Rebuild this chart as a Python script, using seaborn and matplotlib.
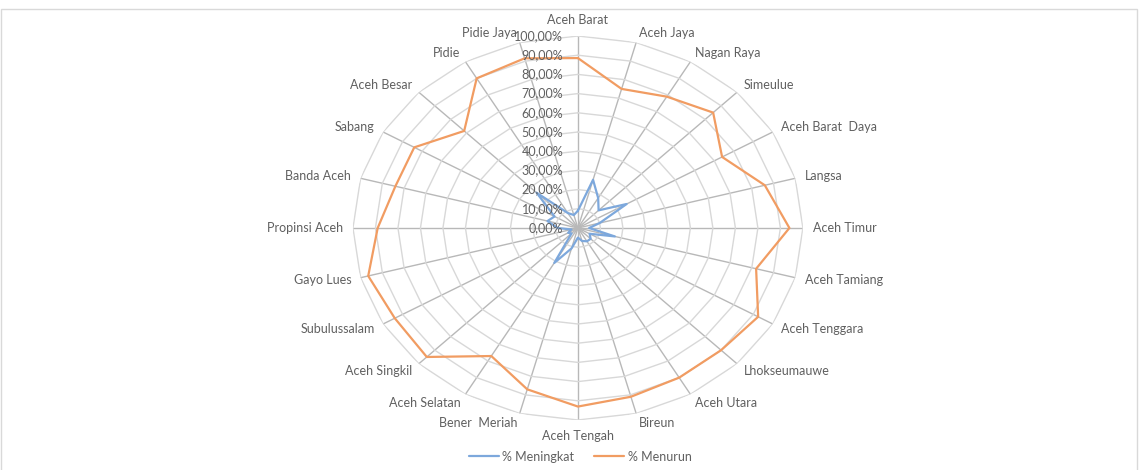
import numpy as np
import pandas as pd
import matplotlib
matplotlib.use('Agg')
import matplotlib.pyplot as plt
from matplotlib.lines import Line2D
from matplotlib.patches import Rectangle
import seaborn as sns

categories = [
    'Aceh Barat', 'Aceh Jaya', 'Nagan Raya', 'Simeulue', 'Aceh Barat  Daya',
    'Langsa', 'Aceh Timur', 'Aceh Tamiang', 'Aceh Tenggara', 'Lhokseumauwe',
    'Aceh Utara', 'Bireun', 'Aceh Tengah', 'Bener  Meriah', 'Aceh Selatan',
    'Aceh Singkil', 'Subulussalam', 'Gayo Lues', 'Propinsi Aceh', 'Banda Aceh',
    'Sabang', 'Aceh Besar', 'Pidie', 'Pidie Jaya',
]
meningkat = [9, 26, 18, 13, 25, 10, 5, 17, 6, 8, 8, 7,
             5, 11, 21, 4, 5, 3, 9, 14, 12, 26, 9, 7]
menurun = [88.5, 75, 79, 85, 74, 86, 94, 82, 92.5, 90, 90, 91,
           93, 87, 77, 95, 94, 96.5, 89, 84, 84, 71.5, 90, 91.5]
series_names = ['% Meningkat', '% Menurun']
r_ticks = [0, 10, 20, 30, 40, 50, 60, 70, 80, 90, 100]

BLUE = '#7DA8DC'
ORANGE = '#F19C62'
TEXT = '#606060'
RING = '#D8D8D8'
SPOKE = '#B8B8B8'

n = len(categories)
angles = np.linspace(0, 2 * np.pi, n, endpoint=False)
closed = np.append(angles, angles[0])

rows = []
for name, vals in zip(series_names, [meningkat, menurun]):
    for a, v in zip(closed, vals + vals[:1]):
        rows.append({'angle': a, 'value': v / 100, 'series': name})
df = pd.DataFrame(rows)

sns.set_theme(style='white')
plt.rcParams['font.family'] = ['Lato', 'DejaVu Sans']

fig = plt.figure(figsize=(11.4, 4.7), dpi=100)
ax = fig.add_axes([0.3096, 0.1064, 0.3947, 0.817], projection='polar')
ax.set_aspect('auto')
ax.set_theta_zero_location('N')
ax.set_theta_direction(-1)
ax.set_ylim(0, 1)
ax.spines['polar'].set_visible(False)
ax.set_facecolor('white')

# spokes
ax.set_xticks(angles)
ax.set_xticklabels([])
ax.xaxis.grid(True, color=SPOKE, lw=1.0)
ax.set_yticks([])
ax.yaxis.grid(False)

# polygon rings like Excel radar
for t in r_ticks[1:]:
    ax.plot(closed, [t / 100] * len(closed), color=RING, lw=1.0, zorder=1)

sns.lineplot(data=df, x='angle', y='value', hue='series', sort=False,
             estimator=None, palette=[BLUE, ORANGE], lw=1.6, legend=False,
             ax=ax, zorder=3)
ax.set_xlabel('')
ax.set_ylabel('')

# radial tick labels along the top spoke
for t in r_ticks:
    ax.annotate(f'{t},00%', xy=(0, t / 100), xytext=(-10.5, 0),
                textcoords='offset points', ha='right', va='center',
                fontsize=9, color=TEXT, zorder=4)

# category labels outside the spokes
for a, lab in zip(angles, categories):
    s, c = np.sin(a), np.cos(a)
    ha = 'left' if s > 0.01 else ('right' if s < -0.01 else 'center')
    va = 'center'
    if abs(s) < 0.01:
        va = 'bottom' if c > 0 else 'top'
    ax.annotate(lab, xy=(a, 1.0), xytext=(7 * s, 7 * c),
                textcoords='offset points', ha=ha, va=va,
                fontsize=9, color=TEXT, annotation_clip=False)

handles = [Line2D([], [], color=BLUE, lw=1.6), Line2D([], [], color=ORANGE, lw=1.6)]
fig.legend(handles, series_names, loc='center', bbox_to_anchor=(0.509, 0.028),
           ncol=2, frameon=False, fontsize=9, handlelength=2.4,
           columnspacing=1.6, handletextpad=0.3, labelcolor=TEXT)

fig.patches.append(Rectangle((0.001, -0.01), 0.996, 0.99, transform=fig.transFigure,
                             fill=False, edgecolor='#D9D9D9', lw=1.0))

fig.savefig('out.png', dpi=100, facecolor='white')
plt.close(fig)
